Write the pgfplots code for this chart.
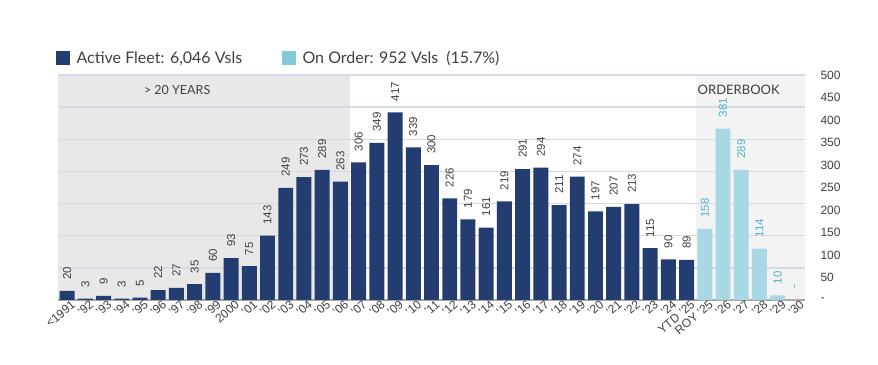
\documentclass[border=0pt]{standalone}
\usepackage{fontspec}
\setmainfont{Liberation Sans}
\newfontfamily\lato{Lato}
\usepackage{pgfplots}
\pgfplotsset{compat=1.18}
\definecolor{navy}{RGB}{35,61,112}
\definecolor{lblue}{RGB}{168,216,227}
\definecolor{lbluelg}{RGB}{128,201,215}
\definecolor{ordtxt}{RGB}{79,179,200}
\definecolor{txtgray}{RGB}{64,64,64}
\definecolor{gridc}{RGB}{213,219,229}
\definecolor{shadeA}{RGB}{232,232,232}
\definecolor{shadeB}{RGB}{243,243,243}
\begin{document}
\begin{tikzpicture}
\begin{axis}[
  at={(58bp,65bp)}, anchor=south west,
  scale only axis, width=747bp, height=225bp,
  set layers,
  xmin=-0.5, xmax=40.5, ymin=0, ymax=500,
  axis x line*=bottom, axis y line*=right,
  x axis line style={draw=black!35, line width=1.5bp},
  y axis line style={draw=none},
  xtick={0,...,40},
  xticklabels={<1991,'92,'93,'94,'95,'96,'97,'98,'99,2000,'01,'02,'03,'04,'05,'06,'07,'08,'09,'10,'11,'12,'13,'14,'15,'16,'17,'18,'19,'20,'21,'22,'23,'24,YTD '25,ROY '25,'26,'27,'28,'29,'30},
  xticklabel style={rotate=40, anchor=north east, font=\fontsize{12bp}{13bp}\selectfont, text=txtgray, inner sep=1bp, xshift=4bp, yshift=-1bp},
  ytick={0,50,...,500},
  yticklabels={-,50,100,150,200,250,300,350,400,450,500},
  yticklabel style={anchor=west, xshift=12bp, font=\fontsize{12bp}{13bp}\selectfont, text=txtgray},
  major tick length=0pt,
  extra y ticks={71.4286,142.857,214.286,285.714,357.143,428.571,500},
  extra y tick labels={},
  extra y tick style={grid=major, major grid style={gridc, line width=1.5bp}},
  /pgf/number format/assume math mode=true,
  clip=false,
  legend style={at={(axis description cs:0,1)}, anchor=south west, xshift=-5bp, yshift=6bp, draw=none, fill=none,
    legend columns=2, font=\lato\fontsize{16bp}{18bp}\selectfont, text=txtgray,
    /tikz/every odd column/.append style={column sep=5bp},
    /tikz/every even column/.append style={column sep=38bp}},
  legend cell align=left,
]
\begin{pgfonlayer}{axis background}
\fill[shadeA] (axis cs:-0.5,0) rectangle (axis cs:15.5,500);
\fill[shadeB] (axis cs:34.5,0) rectangle (axis cs:40.5,500);
\end{pgfonlayer}
\node[font=\lato\fontsize{12.5bp}{13bp}\selectfont, text=txtgray] at (axis cs:6.04,467) {> 20 YEARS};
\node[font=\lato\fontsize{13bp}{14bp}\selectfont, text=txtgray] at (axis cs:36.86,467) {ORDERBOOK};

\addlegendimage{legend image code/.code={\fill[navy] (0bp,-6.5bp) rectangle (13bp,6.5bp);}}
\addlegendentry{Active Fleet: 6,046 Vsls}
\addlegendimage{legend image code/.code={\fill[lbluelg] (0bp,-6.5bp) rectangle (13bp,6.5bp);}}
\addlegendentry{On Order: 952 Vsls\enspace(15.7\%)}

\addplot[ybar, bar width=0.82, bar shift=0pt, fill=navy, draw=none, forget plot,
  nodes near coords,
  every node near coord/.append style={rotate=90, anchor=west, inner xsep=11bp, inner ysep=0pt, font=\fontsize{11.5bp}{12bp}\selectfont, text=txtgray}]
coordinates {
(0,20) (1,3) (2,9) (3,3) (4,5) (5,22) (6,27) (7,35) (8,60) (9,93)
(10,75) (11,143) (12,249) (13,273) (14,289) (15,263) (16,306) (17,349) (18,417) (19,339)
(20,300) (21,226) (22,179) (23,161) (24,219) (25,291) (26,294) (27,211) (28,274) (29,197)
(30,207) (31,213) (32,115) (33,90) (34,89)
};
\addplot[ybar, bar width=0.82, bar shift=0pt, fill=lblue, draw=none, forget plot,
  point meta=explicit symbolic,
  nodes near coords={\pgfplotspointmeta},
  every node near coord/.append style={rotate=90, anchor=west, inner xsep=11bp, inner ysep=0pt, font=\fontsize{11.5bp}{12bp}\selectfont, text=ordtxt}]
coordinates {
(35,158)[158] (36,381)[381] (37,289)[289] (38,114)[114] (39,10)[10] (40,0)[-]
};
\end{axis}
\pgfresetboundingbox
\path[use as bounding box] (0,0) rectangle (878bp,365bp);
\end{tikzpicture}
\end{document}
